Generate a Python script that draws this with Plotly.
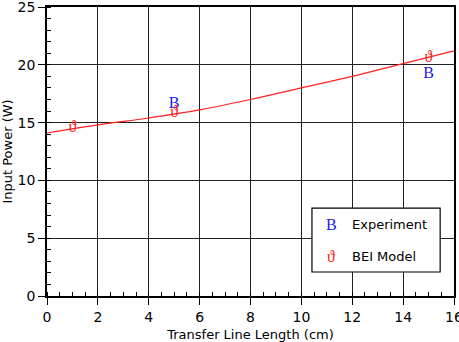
import plotly.graph_objects as go

# Data
line_x = [0, 2, 4, 6, 8, 10, 12, 14, 16]
line_y = [14.1, 14.8, 15.4, 16.1, 17.0, 18.0, 19.0, 20.1, 21.2]
exp_x = [5, 15]
exp_y = [16.6, 19.2]
model_x = [1, 5, 15]
model_y = [14.55, 15.85, 20.6]

x_ticks = [0, 2, 4, 6, 8, 10, 12, 14, 16]
y_ticks = [0, 5, 10, 15, 20, 25]

fig = go.Figure()
fig.add_trace(go.Scatter(x=line_x, y=line_y, mode="lines",
                         line=dict(color="#ff2020", width=1.2, shape="spline"),
                         showlegend=False, hoverinfo="skip"))
fig.add_trace(go.Scatter(x=exp_x, y=exp_y, mode="text", text=["B"] * len(exp_x),
                         textfont=dict(family="Liberation Serif, DejaVu Serif", size=16, color="#2020e0"),
                         showlegend=False))
fig.add_trace(go.Scatter(x=model_x, y=model_y, mode="text", text=["ϑ"] * len(model_x),
                         textfont=dict(family="Liberation Serif, DejaVu Serif", size=16, color="#ff2020"),
                         showlegend=False))

axis_common = dict(
    showline=True, linecolor="black", linewidth=1.5, mirror=True,
    showgrid=True, gridcolor="#222222", gridwidth=1.4,
    ticks="outside", ticklen=7, tickcolor="black", tickwidth=1.2,
    tickfont=dict(family="DejaVu Sans", size=14, color="black"),
    zeroline=False, automargin=False, ticklabeloverflow="allow",
)

fig.update_xaxes(range=[0, 16], tickvals=x_ticks, ticktext=[str(v) for v in x_ticks],
                 minor=dict(ticks="inside", ticklen=4, dtick=0.5, tickcolor="black", showgrid=False),
                 title=dict(text="Transfer Line Length (cm)", font=dict(family="DejaVu Sans", size=13, color="black"), standoff=18),
                 **axis_common)
fig.update_yaxes(range=[0, 25], tickvals=y_ticks, ticktext=[str(v) for v in y_ticks],
                 minor=dict(ticks="inside", ticklen=4, dtick=1, tickcolor="black", showgrid=False),
                 title=dict(text="Input Power (W)", font=dict(family="DejaVu Sans", size=13, color="black"), standoff=6),
                 **axis_common)

# Legend box
fig.add_shape(type="rect", xref="paper", yref="paper", x0=0.651, x1=0.966, y0=0.083, y1=0.304,
              line=dict(color="black", width=1.2), fillcolor="white", layer="above")
fig.add_annotation(xref="paper", yref="paper", x=0.698, y=0.249, text="B", showarrow=False,
                   xanchor="center", yanchor="middle",
                   font=dict(family="Liberation Serif, DejaVu Serif", size=16, color="#2020e0"))
fig.add_annotation(xref="paper", yref="paper", x=0.744, y=0.249, text="Experiment", showarrow=False,
                   xanchor="left", yanchor="middle", font=dict(family="DejaVu Sans", size=13, color="black"))
fig.add_annotation(xref="paper", yref="paper", x=0.698, y=0.138, text="ϑ", showarrow=False,
                   xanchor="center", yanchor="middle",
                   font=dict(family="Liberation Serif, DejaVu Serif", size=16, color="#ff2020"))
fig.add_annotation(xref="paper", yref="paper", x=0.744, y=0.138, text="BEI Model", showarrow=False,
                   xanchor="left", yanchor="middle", font=dict(family="DejaVu Sans", size=13, color="black"))

fig.update_layout(width=459, height=342, margin=dict(l=47, r=5, t=7, b=46),
                  paper_bgcolor="white", plot_bgcolor="white", showlegend=False)

fig.write_html("out.html")
